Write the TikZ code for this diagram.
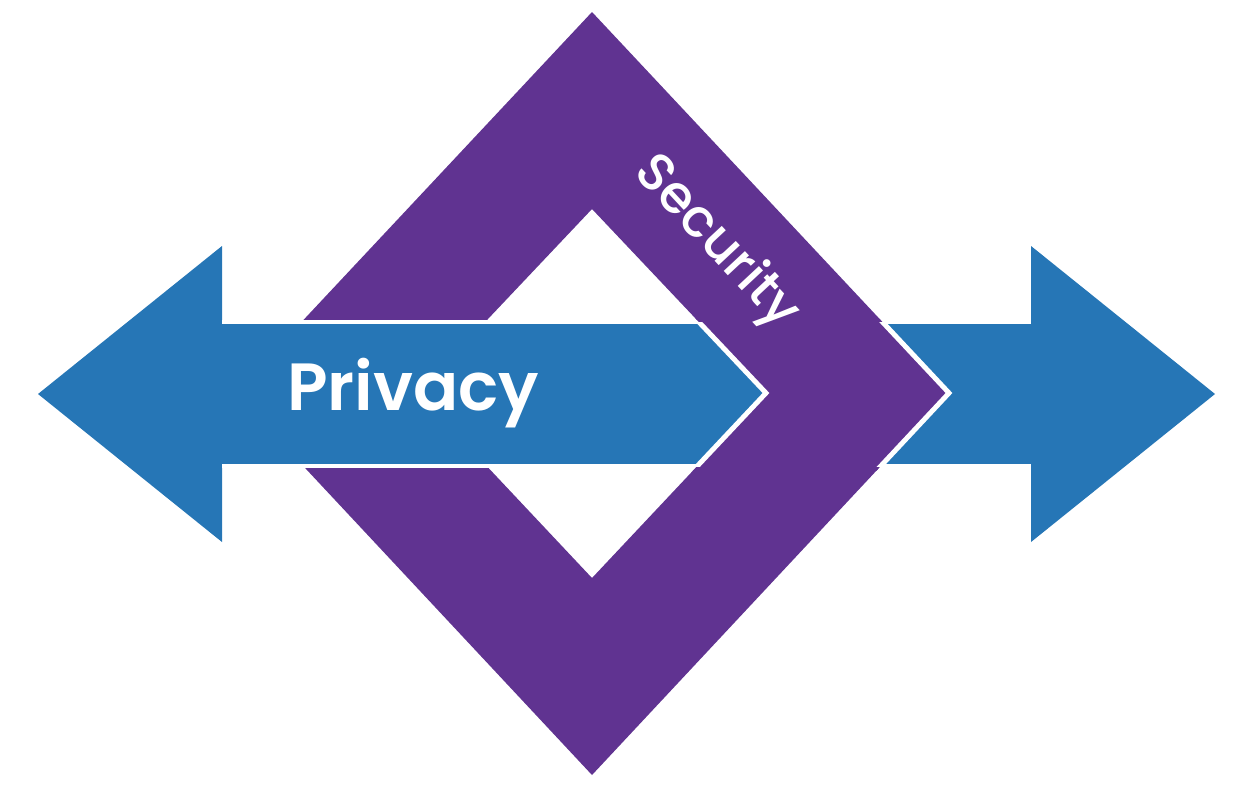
\documentclass[tikz,border=0pt]{standalone}
\usepackage{fontspec}
\usepackage{tikz}
\usetikzlibrary{calc,positioning}
\newfontfamily\privfont{Poppins SemiBold}
\newfontfamily\secfont{Poppins Medium}
\definecolor{privblue}{RGB}{38,118,182}
\definecolor{secpurple}{RGB}{96,51,145}
\tikzset{
	x=0.02cm,
	y=-0.02cm,
	ring/.style={fill=secpurple, even odd rule},
	ring edge/.style={draw=white, line width=2.8pt, line join=miter},
	band/.style={fill=privblue},
	band edge/.style={draw=white, line width=2.8pt},
	privacy label/.style={text=white, font=\privfont\fontsize{38}{44}\selectfont, anchor=base},
	security label/.style={text=white, font=\secfont\fontsize{30}{34}\selectfont, rotate=-47},
}

\begin{document}
\begin{tikzpicture}
		\useasboundingbox (0,0) rectangle (1250,785);

		\coordinate (outtop) at (592,12);
		\coordinate (outright) at (949,393);
		\coordinate (outbottom) at (592,775);
		\coordinate (outleft) at (235,393);
		\coordinate (intop) at (592,209);
		\coordinate (inright) at (766,393);
		\coordinate (inbottom) at (592,578);
		\coordinate (inleft) at (418,393);

		\path[ring] (outtop) -- (outright) -- (outbottom) -- (outleft) -- cycle
			(intop) -- (inright) -- (inbottom) -- (inleft) -- cycle;

		\path[band] (38,394) -- (222,246) -- (222,322) -- (1031,322) -- (1031,246)
			-- (1215,394) -- (1031,542) -- (1031,466) -- (222,466) -- (222,542) -- cycle;
		\draw[band edge] (222,322) -- (1031,322) (222,466) -- (1031,466);

		\begin{scope}
			\clip (640,318) rectangle (1000,470);
			\path[ring] (outtop) -- (outright) -- (outbottom) -- (outleft) -- cycle
				(intop) -- (inright) -- (inbottom) -- (inleft) -- cycle;
		\end{scope}
		\begin{scope}
			\clip (640,322) rectangle (1000,466);
			\draw[ring edge] (outtop) -- (outright) -- (outbottom)
				(intop) -- (inright) -- (inbottom);
		\end{scope}

		\node[privacy label] (privacy) at (413,410) {Privacy};
		\node[security label] (security) at (716,243) {Security};
	\end{tikzpicture}
\end{document}
